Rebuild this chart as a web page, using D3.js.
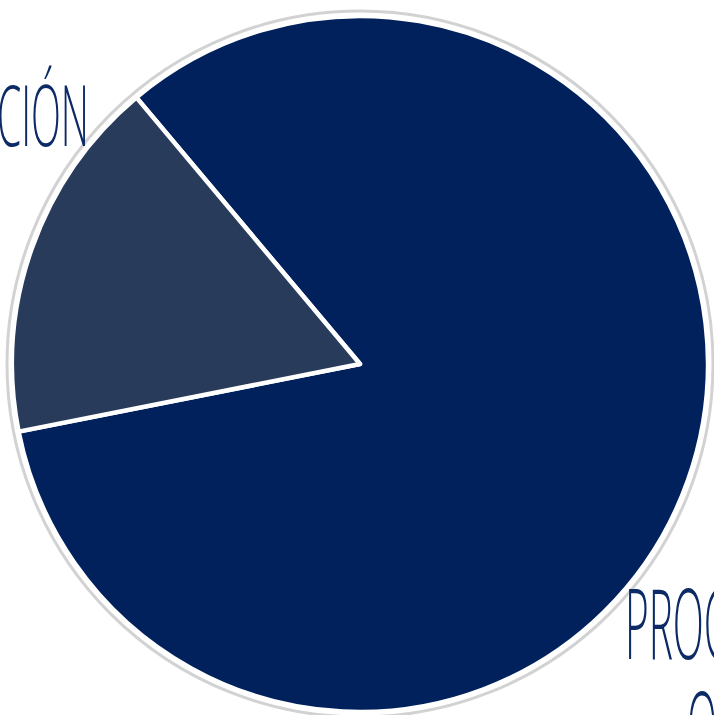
<!DOCTYPE html>
<html>
<head>
<meta charset="utf-8">
<script src="https://cdn.jsdelivr.net/npm/d3@7"></script>
<style>
  html, body { margin: 0; padding: 0; background: #fff; overflow: hidden; }
  svg { display: block; }
</style>
</head>
<body>
<svg id="chart"></svg>
<script>
// Two slices: main block and the smaller wedge on the left
const labels = ['PROCESO', 'CIÓN'];
const values = [83, 17];
const colors = ['#00215c', '#283b5b'];

const W = 714, H = 715;
const cx = 360, cy = 364, R = 348;

const svg = d3.select('#chart').attr('width', W).attr('height', H);

// faint grey rim around the pie
svg.append('circle')
  .attr('cx', cx).attr('cy', cy).attr('r', R + 5)
  .attr('fill', 'none')
  .attr('stroke', '#d2d2d2')
  .attr('stroke-width', 3);

const pie = d3.pie()
  .sort(null)
  .value(d => d)
  .startAngle(-40 * Math.PI / 180)
  .endAngle(320 * Math.PI / 180);

const arc = d3.arc().innerRadius(0).outerRadius(R);

const g = svg.append('g').attr('transform', `translate(${cx},${cy})`);

g.selectAll('path.slice')
  .data(pie(values))
  .enter()
  .append('path')
  .attr('class', 'slice')
  .attr('d', arc)
  .attr('fill', (d, i) => colors[i])
  .attr('stroke', '#ffffff')
  .attr('stroke-width', 4.5)
  .attr('stroke-linejoin', 'round');

// Labels (condensed light type, cut by the frame)
function label(txt, x, y, size, len) {
  svg.append('text')
    .attr('x', x).attr('y', y)
    .attr('font-family', 'Open Sans, sans-serif')
    .attr('font-weight', 300)
    .attr('font-size', size)
    .attr('fill', '#0b2a66')
    .attr('textLength', len)
    .attr('lengthAdjust', 'spacingAndGlyphs')
    .text(txt);
}

label(labels[1], -3, 146, 84, 92);
label('PROC', 625, 659, 98, 104);
label('O', 687, 762, 98, 30);
</script>
</body>
</html>
